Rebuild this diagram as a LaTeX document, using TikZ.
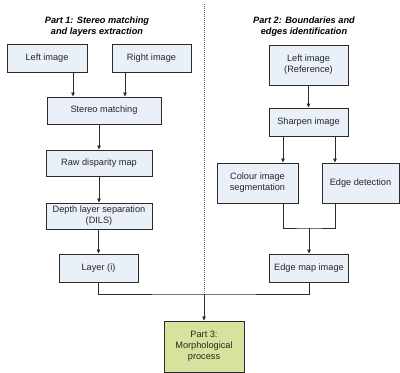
\documentclass[tikz,border=0pt]{standalone}
\usepackage{fontspec}
\setmainfont{Liberation Sans}
\usetikzlibrary{arrows.meta}
\definecolor{boxfill}{HTML}{EAF0F8}
\definecolor{greenfill}{HTML}{D6E39C}
\definecolor{linecol}{HTML}{2B2B2B}
\begin{document}
\begin{tikzpicture}[x=1pt,y=-1pt,
  stepbox/.style={draw=linecol, line width=0.9pt, fill=boxfill, inner sep=0pt, align=center,
    font=\fontsize{9.2}{11}\selectfont, text=black!85},
  greenbox/.style={stepbox, fill=greenfill},
  title/.style={font=\fontsize{9.2}{11}\selectfont\bfseries\itshape, align=center, inner sep=0pt},
  conn/.style={draw=linecol, line width=0.8pt},
  arr/.style={conn, -{Triangle[length=4pt,width=3.5pt]}}]
\useasboundingbox (0,0) rectangle (400,373);
% titles
\node[title] (t1) at (97,27) {Part 1: Stereo matching\\and layers extraction};
\node[title] (t2) at (304,27) {Part 2: Boundaries and\\edges identification};
% left column
\node[stepbox, minimum width=80pt, minimum height=28pt] (li) at (47,58) {Left image};
\node[stepbox, minimum width=79pt, minimum height=28pt] (ri) at (151.5,58) {Right image};
\node[stepbox, minimum width=114pt, minimum height=27pt] (sm) at (104,110.5) {Stereo matching};
\node[stepbox, minimum width=106pt, minimum height=26pt] (rd) at (99,163) {Raw disparity map};
\node[stepbox, minimum width=106pt, minimum height=26pt] (dl) at (99,216) {Depth layer separation\\(DILS)};
\node[stepbox, minimum width=79pt, minimum height=28pt] (ly) at (98.5,268) {Layer (i)};
% right column
\node[stepbox, minimum width=79pt, minimum height=40pt] (lr) at (308.5,65) {Left image\\(Reference)};
\node[stepbox, minimum width=79pt, minimum height=28pt] (sh) at (308.5,122) {Sharpen image};
\node[stepbox, minimum width=81pt, minimum height=40pt] (cs) at (257.5,183) {Colour image\\segmentation};
\node[stepbox, minimum width=77pt, minimum height=40pt] (ed) at (360.5,183) {Edge detection};
\node[stepbox, minimum width=79pt, minimum height=28pt] (em) at (309,268) {Edge map image};
% part 3
\node[greenbox, minimum width=80pt, minimum height=51pt] (p3) at (204,346.5) {Part 3:\\Morphological\\process};
% coordinates
\coordinate (top) at (204,4);
\coordinate (jn) at (204,294);
\coordinate (mg) at (309,228);
% left connectors
\draw[arr] (li.south -| 73,0) -- (sm.north -| 73,0);
\draw[arr] (ri.south -| 125,0) -- (sm.north -| 125,0);
\draw[arr] (sm.south -| rd.north) -- (rd.north);
\draw[arr] (rd.south) -- (dl.north);
\draw[arr] (dl.south -| ly.north) -- (ly.north);
% right connectors
\draw[arr] (lr.south) -- (sh.north);
\draw[arr] (sh.south -| 283,0) -- (cs.north -| 283,0);
\draw[arr] (sh.south -| 335,0) -- (ed.north -| 335,0);
\draw[conn] (cs.south -| 283,0) |- (mg) -| (ed.south -| 335,0);
\draw[arr] (mg) -- (em.north);
% merge
\draw[conn] (ly.south) |- (jn) -| (em.south);
\draw[draw=gray!80!black, line width=1pt, dash pattern=on 1.2pt off 0.8pt] (top) -- (jn);
\draw[arr] (jn) -- (p3.north);
\end{tikzpicture}
\end{document}
